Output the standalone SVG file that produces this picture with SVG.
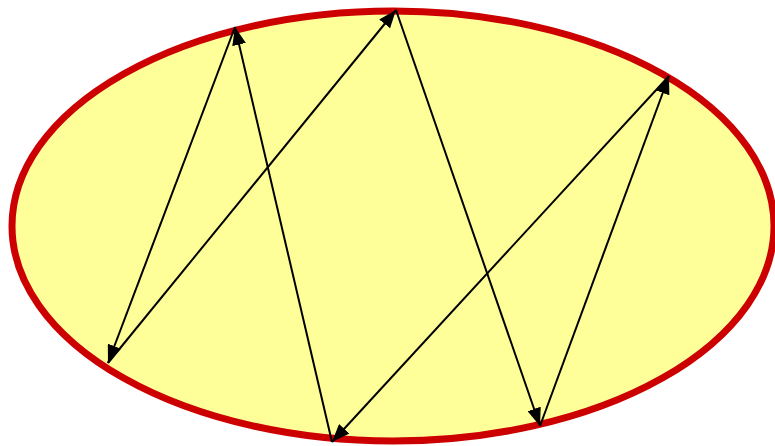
<svg xmlns="http://www.w3.org/2000/svg" width="775" height="446" viewBox="0 0 775 446">
<style>
.edge{stroke:#000;stroke-width:2;fill:none;marker-end:url(#arr)}
</style>
<defs>
<marker id="arr" markerUnits="userSpaceOnUse" viewBox="0 0 18 14" refX="18" refY="7" markerWidth="18" markerHeight="14" orient="auto">
<path d="M0,0 L18,7 L0,14 Z" fill="#000"/>
</marker>
</defs>
<g id="ellipse">
<ellipse cx="393" cy="226" rx="381" ry="215" fill="#ffff99" stroke="#cc0000" stroke-width="7"/>
</g>
<g id="connectors">
<line class="edge" x1="332" y1="442" x2="235" y2="27"/>
<line class="edge" x1="235" y1="27" x2="108" y2="363"/>
<line class="edge" x1="108" y1="363" x2="396" y2="10"/>
<line class="edge" x1="396" y1="10" x2="540" y2="426"/>
<line class="edge" x1="540" y1="426" x2="669" y2="76"/>
<line class="edge" x1="669" y1="76" x2="332" y2="442"/>
</g>
</svg>
